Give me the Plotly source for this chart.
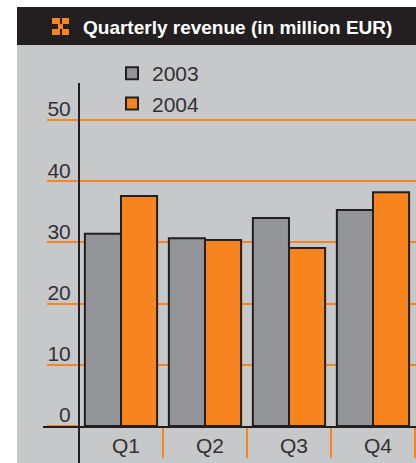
import plotly.graph_objects as go

quarters = ["Q1", "Q2", "Q3", "Q4"]
revenue_2003 = [31.4, 30.7, 34.0, 35.3]
revenue_2004 = [37.6, 30.4, 29.1, 38.2]
y_ticks = [0, 10, 20, 30, 40, 50]
title_text = "<b>Quarterly revenue (in million EUR)</b>"

W, H = 416, 463
L, R, T, B = 80, 0, 83, 37
INK = "#231f20"
GREY = "#939598"
ORANGE = "#f7841e"
PANEL = "#c7c8ca"
TXT = "#333133"
SANS = "Liberation Sans, sans-serif"


def px(x):
    return (x - L) / (W - L - R)


def py(y):
    return (H - B - y) / (H - T - B)


def rect(x0, y0, x1, y1, color):
    return dict(type="rect", xref="paper", yref="paper", x0=px(x0), x1=px(x1),
                y0=py(y0), y1=py(y1), fillcolor=color, line_width=0, layer="below")


def seg(x0, y0, x1, y1, color, width):
    return dict(type="line", xref="paper", yref="paper", x0=px(x0), x1=px(x1),
                y0=py(y0), y1=py(y1), line=dict(color=color, width=width), layer="above")


shapes = [
    rect(17, 45, 416, 463, PANEL),
    rect(17, 7, 416, 45, INK),
    rect(52, 18, 60, 24, ORANGE), rect(62, 18, 69, 24, ORANGE),
    rect(52, 29, 60, 35, ORANGE), rect(62, 29, 69, 35, ORANGE),
    rect(58, 24, 63, 29, ORANGE),
    seg(43, 427, 80, 427, INK, 2),
    seg(79, 427, 79, 463, INK, 2),
]

fig = go.Figure()
for name, vals, col in [("2003", revenue_2003, GREY), ("2004", revenue_2004, ORANGE)]:
    fig.add_trace(go.Bar(x=quarters, y=vals, name=name,
                         marker=dict(color=col, line=dict(color=INK, width=2))))

fig.update_layout(
    width=W, height=H, autosize=False,
    margin=dict(l=L, r=R, t=T, b=B, pad=0),
    paper_bgcolor="white", plot_bgcolor="rgba(0,0,0,0)",
    barmode="group", bargap=0.14, bargroupgap=0,
    shapes=shapes,
    font=dict(family=SANS, color=TXT),
    title=dict(text=title_text, x=83 / W, xanchor="left", xref="container",
               y=1 - 27 / H, yanchor="middle", yref="container",
               font=dict(family=SANS, size=19, color="white")),
    legend=dict(x=px(112), y=py(53), xanchor="left", yanchor="top",
                bgcolor="rgba(0,0,0,0)", borderwidth=0, traceorder="normal",
                font=dict(family=SANS, size=21, color=TXT)),
    showlegend=True,
)
fig.update_xaxes(
    range=[-0.488, 3.512], showgrid=False, showline=True, linecolor=INK, linewidth=2,
    ticks="outside", tickson="boundaries", ticklen=30, tickwidth=1.5, tickcolor=ORANGE,
    ticklabelstandoff=0, ticklabelshift=5, tickfont=dict(family=SANS, size=21, color=TXT),
    zeroline=False,
)
fig.update_yaxes(
    range=[0, 56.05], tickvals=y_ticks, showgrid=True, gridcolor=ORANGE, gridwidth=1.5,
    showline=True, linecolor=INK, linewidth=2, zeroline=False,
    ticks="outside", ticklen=31, tickwidth=1.5, tickcolor=ORANGE,
    ticklabelstandoff=-28, ticklabelshift=-11,
    tickfont=dict(family=SANS, size=21, color=TXT),
)
fig.write_html("out.html", config=dict(displayModeBar=False),
               post_script="document.body.style.margin='0';")
